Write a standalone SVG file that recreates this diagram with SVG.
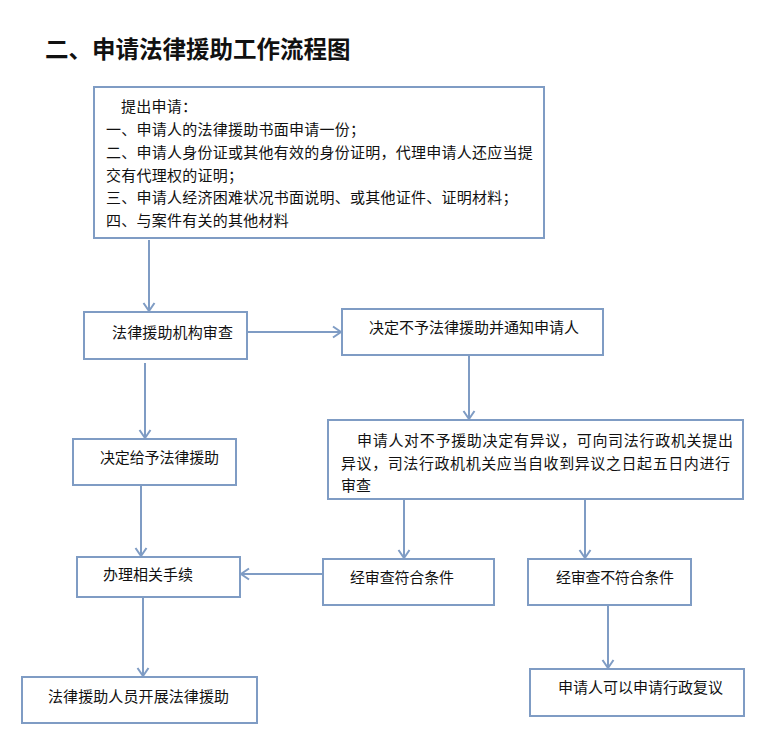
<svg xmlns="http://www.w3.org/2000/svg" width="780" height="748" viewBox="0 0 780 748">
<style>
  .box { fill: #ffffff; stroke: #7f9cc4; stroke-width: 2; }
  .t { font-family: "Noto Sans CJK SC", "Noto Sans", sans-serif; font-size: 15px; fill: #111111; }
  .b1 { letter-spacing: 0.25px; }
  .title { font-family: "Noto Sans CJK SC", "Noto Sans", sans-serif; font-size: 23.5px; font-weight: bold; fill: #111111; }
  .conn line { stroke: #7f9cc4; stroke-width: 2; fill: none; }
</style>
<defs>
  <marker id="arr" markerUnits="userSpaceOnUse" markerWidth="14" markerHeight="14" viewBox="0 0 14 14" refX="11" refY="7" orient="auto">
    <path d="M3,1.5 L11,7 L3,12.5" fill="none" stroke="#7f9cc4" stroke-width="2"/>
  </marker>
</defs>
<rect width="780" height="748" fill="#ffffff"/>
<text class="title" x="45" y="58">二、申请法律援助工作流程图</text>

<g id="n1">
  <rect class="box" x="94" y="87" width="450" height="151"/>
  <text class="t b1" x="121" y="112">提出申请：</text>
  <text class="t b1" x="106" y="135">一、申请人的法律援助书面申请一份；</text>
  <text class="t b1" x="106" y="158">二、申请人身份证或其他有效的身份证明，代理申请人还应当提</text>
  <text class="t b1" x="106" y="181">交有代理权的证明；</text>
  <text class="t b1" x="106" y="203">三、申请人经济困难状况书面说明、或其他证件、证明材料；</text>
  <text class="t b1" x="106" y="226">四、与案件有关的其他材料</text>
</g>

<g id="n2">
  <rect class="box" x="84" y="312" width="163" height="47"/>
  <text class="t" x="112" y="338" textLength="121" lengthAdjust="spacing">法律援助机构审查</text>
</g>

<g id="n3">
  <rect class="box" x="342" y="309" width="261" height="46"/>
  <text class="t" x="369" y="333" textLength="210" lengthAdjust="spacing">决定不予法律援助并通知申请人</text>
</g>

<g id="n4">
  <rect class="box" x="73" y="439" width="163" height="46"/>
  <text class="t" x="100" y="463" textLength="119" lengthAdjust="spacing">决定给予法律援助</text>
</g>

<g id="n5">
  <rect class="box" x="328" y="420" width="415" height="79"/>
  <text class="t" x="357" y="446" textLength="376" lengthAdjust="spacing">申请人对不予援助决定有异议，可向司法行政机关提出</text>
  <text class="t" x="341" y="469" textLength="389" lengthAdjust="spacing">异议，司法行政机机关应当自收到异议之日起五日内进行</text>
  <text class="t" x="341" y="491">审查</text>
</g>

<g id="n6">
  <rect class="box" x="77" y="557" width="163" height="40"/>
  <text class="t" x="103" y="580" textLength="90" lengthAdjust="spacing">办理相关手续</text>
</g>

<g id="n7">
  <rect class="box" x="323" y="559" width="171" height="46"/>
  <text class="t" x="350" y="583" textLength="104" lengthAdjust="spacing">经审查符合条件</text>
</g>

<g id="n8">
  <rect class="box" x="528" y="559" width="163" height="46"/>
  <text class="t" x="556" y="583" textLength="118" lengthAdjust="spacing">经审查不符合条件</text>
</g>

<g id="n9">
  <rect class="box" x="22" y="677" width="235" height="46"/>
  <text class="t" x="48" y="702" textLength="181" lengthAdjust="spacing">法律援助人员开展法律援助</text>
</g>

<g id="n10">
  <rect class="box" x="530" y="669" width="214" height="47"/>
  <text class="t" x="558" y="693" textLength="165" lengthAdjust="spacing">申请人可以申请行政复议</text>
</g>

<g id="connectors" class="conn">
  <line x1="149" y1="240" x2="149" y2="311" marker-end="url(#arr)"/>
  <line x1="248" y1="332" x2="341" y2="332" marker-end="url(#arr)"/>
  <line x1="469" y1="356" x2="469" y2="419" marker-end="url(#arr)"/>
  <line x1="145" y1="363" x2="145" y2="438" marker-end="url(#arr)"/>
  <line x1="141" y1="486" x2="141" y2="556" marker-end="url(#arr)"/>
  <line x1="404" y1="500" x2="404" y2="558" marker-end="url(#arr)"/>
  <line x1="585" y1="500" x2="585" y2="558" marker-end="url(#arr)"/>
  <line x1="322" y1="574" x2="241" y2="574" marker-end="url(#arr)"/>
  <line x1="143" y1="598" x2="143" y2="676" marker-end="url(#arr)"/>
  <line x1="608" y1="606" x2="608" y2="668" marker-end="url(#arr)"/>
</g>
</svg>
